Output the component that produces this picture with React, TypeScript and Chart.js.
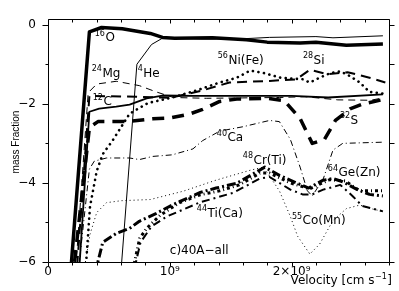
import React, { useEffect, useRef } from "react";
import { Chart, registerables } from "chart.js";

Chart.register(...registerables);

const W = 399;
const H = 291;

// x values in units of 10^9 cm/s, y values = log10 mass fraction
const o16X = [0.18, 0.34, 0.44, 0.61, 0.84, 0.94, 1.04, 1.35, 1.63, 1.8, 2.07, 2.2, 2.45, 2.75];
const o16Y = [-6.5, -0.18, -0.07, -0.1, -0.22, -0.32, -0.34, -0.33, -0.38, -0.44, -0.46, -0.44, -0.52, -0.49];

const he4X = [0.6, 0.73, 0.85, 0.94, 1.25, 1.57, 1.82, 2.2, 2.34, 2.75];
const he4Y = [-6.2, -1.0, -0.5, -0.34, -0.36, -0.36, -0.32, -0.3, -0.33, -0.28];

const mg24X = [0.22, 0.33, 0.4, 0.56, 0.75, 0.89, 1.03, 1.3, 1.6, 1.9, 2.11, 2.38, 2.65, 2.75];
const mg24Y = [-6.5, -1.72, -1.5, -1.43, -1.54, -1.7, -1.84, -1.86, -1.85, -1.84, -1.82, -1.9, -1.91, -1.85];

const c12X = [0.25, 0.34, 0.42, 0.56, 0.67, 0.81, 0.94, 1.2, 1.6, 2.0, 2.3, 2.75];
const c12Y = [-6.5, -2.2, -2.12, -2.07, -2.02, -1.86, -1.79, -1.8, -1.8, -1.8, -1.84, -1.76];

const si28X = [0.23, 0.34, 0.73, 1.0, 1.27, 1.49, 1.82, 2.04, 2.15, 2.29, 2.46, 2.64, 2.77];
const si28Y = [-6.5, -1.8, -1.82, -1.85, -1.66, -1.46, -1.42, -1.38, -1.14, -1.25, -1.2, -1.34, -1.46];

const s32X = [0.2, 0.34, 0.41, 0.65, 0.86, 1.0, 1.16, 1.27, 1.41, 1.55, 1.8, 1.94, 2.07, 2.17, 2.27, 2.36, 2.48, 2.59, 2.77];
const s32Y = [-6.5, -2.6, -2.45, -2.45, -2.38, -2.36, -2.26, -2.14, -1.94, -1.88, -1.86, -1.92, -2.37, -3.0, -2.9, -2.42, -2.13, -2.0, -1.88];

const ca40X = [0.24, 0.34, 0.38, 0.48, 0.67, 0.75, 0.86, 1.02, 1.19, 1.27, 1.41, 1.6, 1.82, 1.9, 1.99, 2.07, 2.13, 2.17, 2.26, 2.34, 2.42, 2.75];
const ca40Y = [-6.5, -3.65, -3.45, -3.37, -3.37, -3.41, -3.33, -3.29, -3.14, -2.93, -2.69, -2.58, -2.42, -2.45, -2.9, -3.6, -4.2, -4.33, -3.9, -3.17, -3.0, -2.97];

const ni56X = [0.3, 0.345, 0.4, 0.45, 0.53, 0.67, 0.82, 1.02, 1.22, 1.41, 1.55, 1.66, 1.77, 1.91, 2.09, 2.15, 2.23, 2.32, 2.4, 2.48, 2.56, 2.64, 2.75];
const ni56Y = [-6.6, -4.6, -3.7, -3.27, -2.93, -2.25, -1.98, -1.84, -1.66, -1.46, -1.34, -1.16, -1.22, -1.34, -1.38, -1.46, -1.34, -1.22, -1.18, -1.3, -1.46, -1.7, -1.74];

const co55X = [0.28, 0.345, 0.4, 0.48, 0.6, 0.84, 1.11, 1.38, 1.66, 1.77, 1.9, 1.99, 2.05, 2.15, 2.23, 2.34, 2.45, 2.56, 2.65, 2.75];
const co55Y = [-6.5, -5.3, -4.75, -4.5, -4.45, -4.42, -4.21, -3.93, -3.68, -3.6, -4.2, -4.85, -5.35, -5.8, -5.55, -4.95, -4.65, -4.56, -4.65, -4.72];

const cr48X = [0.385, 0.45, 0.565, 0.67, 0.75, 0.89, 1.025, 1.25, 1.38, 1.55, 1.78, 1.9, 2.04, 2.14, 2.26, 2.34, 2.42, 2.54, 2.64, 2.75];
const cr48Y = [-6.3, -5.5, -5.27, -5.15, -4.97, -4.77, -4.55, -4.24, -4.13, -4.01, -3.6, -3.81, -4.0, -4.13, -3.93, -3.89, -3.97, -4.17, -4.29, -4.33];

const ge64X = [0.69, 0.753, 0.81, 0.92, 1.08, 1.25, 1.41, 1.57, 1.74, 1.82, 1.99, 2.15, 2.31, 2.44, 2.56, 2.75];
const ge64Y = [-6.3, -5.4, -5.15, -4.82, -4.5, -4.3, -4.2, -4.05, -3.75, -3.75, -4.0, -4.15, -3.92, -3.95, -4.2, -4.2];

const ti44X = [0.7, 0.76, 0.85, 0.975, 1.25, 1.52, 1.74, 1.82, 1.99, 2.09, 2.17, 2.26, 2.4, 2.5, 2.58, 2.75];
const ti44Y = [-6.3, -5.5, -5.1, -4.85, -4.49, -4.25, -3.89, -3.85, -4.17, -4.29, -4.29, -4.17, -4.05, -4.33, -4.58, -4.72];

const xTickValues = [0, 1, 2];
const xTickLabels = ["0", "10⁹", "2×10⁹"];
const yTickValues = [-6, -4, -2, 0];
const yTickLabels = ["−6", "−4", "−2", "0"];

const X_MIN = 0;
const X_MAX = 2.8;
const Y_MIN = -6;
const Y_MAX = 0.14;

// curve labels: superscript mass number, element text, left x and baseline y in data units
const curveLabels = [
  { sup: "16", text: "O", x: 0.384, y: -0.414 },
  { sup: "24", text: "Mg", x: 0.359, y: -1.32 },
  { sup: "4", text: "He", x: 0.737, y: -1.32 },
  { sup: "12", text: "C", x: 0.367, y: -2.04 },
  { sup: "56", text: "Ni(Fe)", x: 1.394, y: -0.99 },
  { sup: "28", text: "Si", x: 2.093, y: -0.99 },
  { sup: "32", text: "S", x: 2.397, y: -2.5 },
  { sup: "40", text: "Ca", x: 1.386, y: -2.95 },
  { sup: "48", text: "Cr(Ti)", x: 1.6, y: -3.51 },
  { sup: "64", text: "Ge(Zn)", x: 2.298, y: -3.83 },
  { sup: "44", text: "Ti(Ca)", x: 1.222, y: -4.86 },
  { sup: "55", text: "Co(Mn)", x: 2.003, y: -5.05 },
  { sup: "", text: "c)40A−all", x: 1.0, y: -5.81 },
];

const FONT = '"DejaVu Sans", sans-serif';

function series(xs: number[], ys: number[], width: number, dash: number[], cap: CanvasLineCap = "butt") {
  return {
    data: xs.map((x, i) => ({ x, y: ys[i] })),
    borderColor: "#000",
    backgroundColor: "#000",
    borderWidth: width,
    borderDash: dash,
    borderCapStyle: cap,
    borderJoinStyle: "round" as CanvasLineJoin,
    pointRadius: 0,
    fill: false,
    tension: 0,
    clip: 0,
  };
}

const decorPlugin = {
  id: "decor",
  afterDraw(chart: any) {
    const { ctx, chartArea: a, scales } = chart;
    const xs = scales.x;
    const ys = scales.y;
    ctx.save();
    ctx.strokeStyle = "#000";
    ctx.fillStyle = "#000";
    ctx.lineWidth = 1;
    const L = Math.round(a.left) + 0.5;
    const R = Math.round(a.right) + 0.5;
    const T = Math.round(a.top) + 0.5;
    const B = Math.round(a.bottom) + 0.5;
    ctx.beginPath();
    ctx.rect(L, T, R - L, B - T);
    ctx.stroke();
    // y ticks
    ctx.beginPath();
    for (let v = Y_MIN; v <= 0; v += 1) {
      const py = Math.round(ys.getPixelForValue(v)) + 0.5;
      const major = v % 2 === 0;
      ctx.moveTo(L, py);
      ctx.lineTo(L - (major ? 6 : 3), py);
      ctx.moveTo(R, py);
      ctx.lineTo(R + 5, py);
    }
    // x ticks
    for (let k = 0; k <= 14; k++) {
      const v = k * 0.2;
      const px = Math.round(xs.getPixelForValue(v)) + 0.5;
      const major = k % 5 === 0;
      ctx.moveTo(px, B);
      ctx.lineTo(px, B + (major ? 4 : 3));
      ctx.moveTo(px, T);
      ctx.lineTo(px, T + (major ? 4 : 3));
    }
    ctx.stroke();

    // curve labels
    ctx.textBaseline = "alphabetic";
    ctx.textAlign = "left";
    for (const lb of curveLabels) {
      const px = xs.getPixelForValue(lb.x);
      const py = ys.getPixelForValue(lb.y);
      let off = 0;
      if (lb.sup) {
        ctx.font = `8px ${FONT}`;
        ctx.fillText(lb.sup, px, py - 5.5);
        off = ctx.measureText(lb.sup).width + 0.5;
      }
      ctx.font = `12px ${FONT}`;
      ctx.fillText(lb.text, px + off, py);
    }

    // x axis title (right aligned)
    const right = 392;
    const base = 284;
    ctx.font = `12px ${FONT}`;
    const tail = "]";
    const wTail = ctx.measureText(tail).width;
    ctx.font = `8px ${FONT}`;
    const sup = "−1";
    const wSup = ctx.measureText(sup).width;
    ctx.font = `12px ${FONT}`;
    const head = "Velocity [cm s";
    const wHead = ctx.measureText(head).width;
    const start = right - wTail - wSup - wHead - 1;
    ctx.fillText(head, start, base);
    ctx.font = `8px ${FONT}`;
    ctx.fillText(sup, start + wHead + 0.5, base - 5);
    ctx.font = `12px ${FONT}`;
    ctx.fillText(tail, start + wHead + wSup + 1, base);

    // y axis title
    ctx.save();
    ctx.translate(19, 142);
    ctx.rotate(-Math.PI / 2);
    ctx.font = `10px "Liberation Sans", sans-serif`;
    ctx.textAlign = "center";
    ctx.fillText("mass Fraction", 0, 0);
    ctx.restore();

    ctx.restore();
  },
};

export default function App() {
  const ref = useRef<HTMLCanvasElement>(null);
  useEffect(() => {
    const canvas = ref.current;
    if (!canvas) return;
    const chart = new Chart(canvas, {
      type: "line",
      data: {
        datasets: [
          series(o16X, o16Y, 3.5, []),
          series(he4X, he4Y, 1, []),
          series(mg24X, mg24Y, 1, [7, 5]),
          series(c12X, c12Y, 1.8, []),
          series(si28X, si28Y, 2, [10, 6]),
          series(s32X, s32Y, 3.5, [12, 8]),
          series(ca40X, ca40Y, 1, [6, 3, 1, 3]),
          series(ni56X, ni56Y, 2.6, [0.1, 5.5], "round"),
          series(co55X, co55Y, 1, [1, 3]),
          series(cr48X, cr48Y, 3, [9, 3, 2, 3]),
          series(ge64X, ge64Y, 3, [3, 3, 1, 3]),
          series(ti44X, ti44Y, 2, [8, 4, 2, 4]),
        ] as any,
      },
      options: {
        animation: false,
        responsive: false,
        devicePixelRatio: 1,
        events: [],
        layout: { padding: { top: 5, right: 10, left: 0, bottom: 0 } },
        plugins: { legend: { display: false }, tooltip: { enabled: false }, title: { display: false } },
        scales: {
          x: {
            type: "linear",
            min: X_MIN,
            max: X_MAX,
            afterBuildTicks: (s: any) => {
              s.ticks = xTickValues.map((v) => ({ value: v }));
            },
            afterFit: (s: any) => {
              s.height = 29;
            },
            grid: { display: false, drawTicks: false },
            border: { display: false },
            ticks: {
              autoSkip: false,
              maxRotation: 0,
              padding: 3,
              color: "#000",
              font: { family: FONT, size: 12 },
              callback: (v: any) => xTickLabels[xTickValues.indexOf(Number(v))] ?? "",
            },
          },
          y: {
            type: "linear",
            min: Y_MIN,
            max: Y_MAX,
            afterBuildTicks: (s: any) => {
              s.ticks = yTickValues.map((v) => ({ value: v }));
            },
            afterFit: (s: any) => {
              s.width = 48;
            },
            grid: { display: false, drawTicks: false },
            border: { display: false },
            ticks: {
              autoSkip: false,
              padding: 12,
              color: "#000",
              font: { family: FONT, size: 12 },
              callback: (v: any) => yTickLabels[yTickValues.indexOf(Number(v))] ?? "",
            },
          },
        },
      } as any,
      plugins: [decorPlugin],
    });
    return () => chart.destroy();
  }, []);
  return (
    <div style={{ position: "absolute", left: 0, top: 0, width: W, height: H, background: "#fff" }}>
      <canvas ref={ref} width={W} height={H} style={{ width: W, height: H, display: "block" }} />
    </div>
  );
}
